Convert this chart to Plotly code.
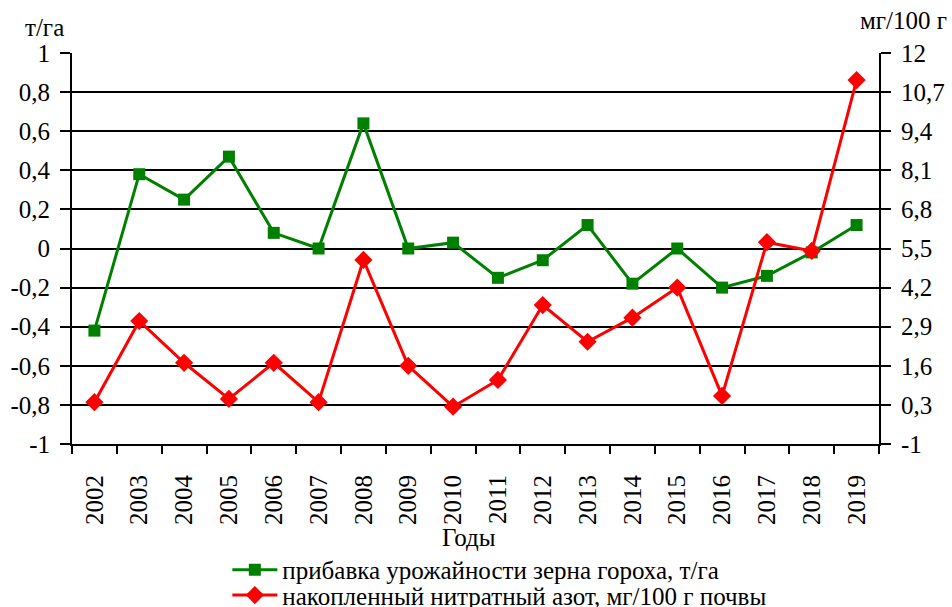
import plotly.graph_objects as go

years = [str(y) for y in range(2002, 2020)]
yield_gain = [-0.42, 0.38, 0.25, 0.47, 0.08, 0.0, 0.64, 0.0, 0.03, -0.15,
              -0.06, 0.12, -0.18, 0.0, -0.2, -0.14, -0.02, 0.12]
nitrate = [0.39, 3.09, 1.70, 0.50, 1.70, 0.39, 5.12, 1.60, 0.24, 1.13,
           3.62, 2.40, 3.20, 4.20, 0.60, 5.71, 5.42, 11.10]

left_ticks = [-1, -0.8, -0.6, -0.4, -0.2, 0, 0.2, 0.4, 0.6, 0.8, 1]
left_labels = ["-1", "-0,8", "-0,6", "-0,4", "-0,2", "0", "0,2", "0,4", "0,6", "0,8", "1"]
right_ticks = [-1, 0.3, 1.6, 2.9, 4.2, 5.5, 6.8, 8.1, 9.4, 10.7, 12]
right_labels = ["-1", "0,3", "1,6", "2,9", "4,2", "5,5", "6,8", "8,1", "9,4", "10,7", "12"]

FONT = "Liberation Serif"
FS = 25

fig = go.Figure()
fig.add_trace(go.Scatter(
    x=years, y=yield_gain, mode="lines+markers",
    name="прибавка урожайности зерна гороха, т/га",
    line=dict(color="#008000", width=3),
    marker=dict(symbol="square", size=12, color="#008000"),
    yaxis="y", legend="legend"))
fig.add_trace(go.Scatter(
    x=years, y=nitrate, mode="lines+markers",
    name="накопленный нитратный азот, мг/100 г почвы",
    line=dict(color="#ff0000", width=3),
    marker=dict(symbol="diamond", size=14, color="#ff0000"),
    yaxis="y2", legend="legend2"))

leg_common = dict(orientation="v", xanchor="left", yanchor="middle",
                  font=dict(family=FONT, size=FS, color="black"),
                  itemwidth=45, bgcolor="rgba(0,0,0,0)", borderwidth=0)

fig.update_layout(
    width=952, height=607,
    margin=dict(l=72, r=73, t=53, b=163, autoexpand=False),
    paper_bgcolor="white", plot_bgcolor="white",
    font=dict(family=FONT, size=FS, color="black"),
    showlegend=True,
    legend=dict(x=0.1925, y=-0.322, **leg_common),
    legend2=dict(x=0.1925, y=-0.387, **leg_common),
    xaxis=dict(
        type="category", tickangle=-90, tickson="boundaries",
        ticks="outside", ticklen=8, tickwidth=2, tickcolor="black",
        showline=True, linecolor="black", linewidth=2,
        showgrid=False, tickfont=dict(family=FONT, size=FS),
        ticklabelstandoff=19,
        range=[-0.5, 17.5]),
    yaxis=dict(
        range=[-1, 1], tickvals=left_ticks, ticktext=left_labels,
        ticks="outside", ticklen=10, tickwidth=2, tickcolor="black",
        showline=True, linecolor="black", linewidth=2,
        showgrid=True, gridcolor="black", gridwidth=2,
        zeroline=False, tickfont=dict(family=FONT, size=FS),
        ticklabelstandoff=5),
    yaxis2=dict(
        range=[-1, 12], tickvals=right_ticks, ticktext=right_labels,
        overlaying="y", side="right",
        ticks="outside", ticklen=10, tickwidth=2, tickcolor="black",
        showline=True, linecolor="black", linewidth=2,
        showgrid=False, zeroline=False, tickfont=dict(family=FONT, size=FS),
        ticklabelstandoff=5),
    annotations=[
        dict(text="т/га", xref="paper", yref="paper", x=0, y=1,
             xshift=-28, yshift=26, showarrow=False, yanchor="middle",
             xanchor="center", font=dict(family=FONT, size=FS)),
        dict(text="мг/100 г", xref="paper", yref="paper", x=1, y=1,
             xshift=70, yshift=33, showarrow=False, yanchor="middle",
             xanchor="right", font=dict(family=FONT, size=FS)),
        dict(text="Годы", xref="paper", yref="paper", x=0.492, y=-0.240,
             showarrow=False, yanchor="middle", xanchor="center",
             font=dict(family=FONT, size=FS)),
    ],
)

fig.write_html("out.html",
               config={"displayModeBar": False},
               post_script="document.body.style.margin='0';"
                           "document.documentElement.style.overflow='hidden';")
